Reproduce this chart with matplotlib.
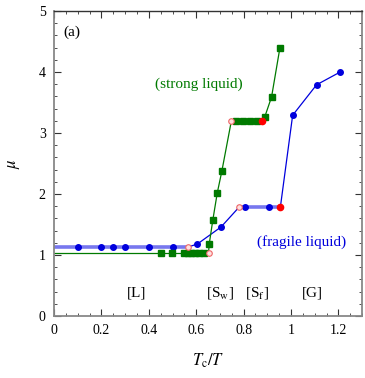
import matplotlib
matplotlib.use('Agg')
import matplotlib.pyplot as plt

plt.rcParams['font.family'] = ['Liberation Serif', 'DejaVu Serif']
plt.rcParams['mathtext.fontset'] = 'stix'

# fragile liquid (blue circles)
frag_low_x = [0.10, 0.20, 0.25, 0.30, 0.40, 0.50]
frag_low_y = [1.13, 1.13, 1.13, 1.13, 1.13, 1.13]
frag_mid_x = [0.565, 0.605, 0.705, 0.78]
frag_mid_y = [1.13, 1.18, 1.46, 1.78]
frag_plat_x = [0.807, 0.907]
frag_plat_y = [1.78, 1.78]
frag_high_x = [0.955, 1.007, 1.108, 1.208]
frag_high_y = [1.78, 3.29, 3.79, 4.00]

# strong liquid (green squares)
strong_low_x = [0.452, 0.497, 0.548, 0.565, 0.58, 0.595, 0.61, 0.635]
strong_low_y = [1.04] * 8
strong_mid_x = [0.652, 0.655, 0.67, 0.689, 0.708, 0.748]
strong_mid_y = [1.04, 1.18, 1.57, 2.02, 2.37, 3.19]
strong_plat_x = [0.769, 0.796, 0.825, 0.856]
strong_plat_y = [3.19, 3.19, 3.19, 3.19]
strong_high_x = [0.877, 0.889, 0.918, 0.953]
strong_high_y = [3.19, 3.26, 3.59, 4.39]

# transition points
open_x = [0.565, 0.78, 0.652, 0.748]
open_y = [1.13, 1.78, 1.04, 3.19]
red_x = [0.955, 0.877]
red_y = [1.78, 3.19]

blue = '#0000dd'
green = '#007a00'

fig = plt.figure(figsize=(3.65, 3.78), dpi=100)
ax = fig.add_axes([0.148, 0.164, 0.844, 0.807])

# thick plateau guides
ax.plot([0, 0.565], [1.13, 1.13], color='#7777ee', lw=2.6, zorder=1)
ax.plot([0.78, 0.955], [1.78, 1.78], color='#7777ee', lw=2.6, zorder=1)
ax.plot([0, 0.652], [1.04, 1.04], color=green, lw=0.9, zorder=1)
ax.plot([0.748, 0.877], [3.19, 3.19], color=green, lw=2.0, zorder=1)

# fragile liquid
ax.plot(frag_low_x, frag_low_y, 'o', color=blue, ms=4, zorder=3)
ax.plot(frag_mid_x, frag_mid_y, '-', color=blue, lw=0.9, zorder=2)
ax.plot(frag_mid_x[1:3], frag_mid_y[1:3], 'o', color=blue, ms=4, zorder=3)
ax.plot(frag_plat_x, frag_plat_y, 'o', color=blue, ms=4, zorder=3)
ax.plot(frag_high_x, frag_high_y, '-', color=blue, lw=0.9, zorder=2)
ax.plot(frag_high_x[1:], frag_high_y[1:], 'o', color=blue, ms=4, zorder=3)

# strong liquid
ax.plot(strong_low_x, strong_low_y, 's', color=green, ms=4, zorder=3)
ax.plot(strong_mid_x, strong_mid_y, '-', color=green, lw=0.9, zorder=2)
ax.plot(strong_mid_x[1:5], strong_mid_y[1:5], 's', color=green, ms=4, zorder=3)
ax.plot(strong_plat_x, strong_plat_y, 's', color=green, ms=4, zorder=3)
ax.plot(strong_high_x, strong_high_y, '-', color=green, lw=0.9, zorder=2)
ax.plot(strong_high_x[1:], strong_high_y[1:], 's', color=green, ms=4, zorder=3)

ax.plot(open_x, open_y, 'o', mfc='#ffe0e0', mec='#ee6666', mew=0.8, ms=4, zorder=4)
ax.plot(red_x, red_y, 'o', color='red', ms=4.5, zorder=4)

ax.set_xlim(0, 1.3)
ax.set_ylim(0, 5)
ax.set_xticks([0, 0.2, 0.4, 0.6, 0.8, 1.0, 1.2])
ax.set_xticklabels(['0', '0.2', '0.4', '0.6', '0.8', '1', '1.2'])
ax.set_xticks([i * 0.05 for i in range(27)], minor=True)
ax.set_yticks([0, 1, 2, 3, 4, 5])
ax.set_yticks([i * 0.2 for i in range(26)], minor=True)
ax.tick_params(which='both', direction='in', top=True, right=True,
               labelsize=10, pad=6, color='#333333')
ax.tick_params(which='major', length=5, width=0.8)
ax.tick_params(which='minor', length=2.5, width=0.6)
for s in ax.spines.values():
    s.set_color('#888888')
    s.set_linewidth(1.3)
ax.spines['top'].set_color('#333333')
ax.spines['top'].set_linewidth(1.0)

ax.set_xlabel(r'$T_{\rm c}/T$', fontsize=12, labelpad=10)
ax.set_ylabel(r'$\mu$', fontsize=12, labelpad=12)

ax.text(0.04, 4.6, '(a)', fontsize=11)
ax.text(0.61, 3.8, '(strong liquid)', color=green, fontsize=11, ha='center', va='center')
ax.text(1.045, 1.22, '(fragile liquid)', color=blue, fontsize=11, ha='center', va='center')
ax.text(0.35, 0.37, '[L]', fontsize=11, ha='center', va='center')
ax.text(0.70, 0.37, r'[S$_{\rm w}$]', fontsize=11, ha='center', va='center')
ax.text(0.856, 0.37, r'[S$_{\rm f}$]', fontsize=11, ha='center', va='center')
ax.text(1.09, 0.37, '[G]', fontsize=11, ha='center', va='center')

fig.savefig('out.png', dpi=100)
